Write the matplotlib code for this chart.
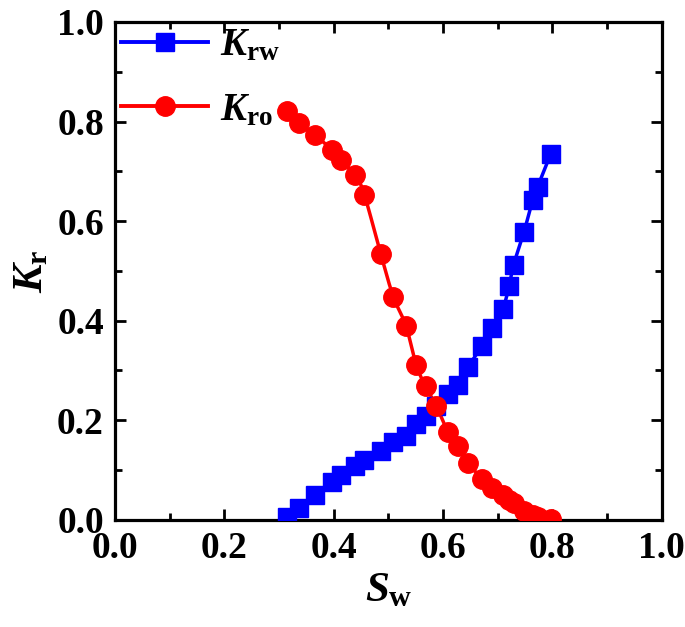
import numpy as np
import matplotlib.pyplot as plt
from matplotlib.ticker import MultipleLocator

# saturation values and relative permeability
sw = [0.315, 0.336, 0.365, 0.397, 0.413, 0.439, 0.456, 0.486, 0.509, 0.532,
      0.551, 0.568, 0.588, 0.609, 0.628, 0.646, 0.671, 0.689, 0.709, 0.721,
      0.729, 0.748, 0.764, 0.773, 0.797]
krw = [0.005, 0.023, 0.050, 0.075, 0.090, 0.109, 0.120, 0.139, 0.157, 0.169,
       0.192, 0.208, 0.228, 0.253, 0.271, 0.307, 0.349, 0.385, 0.423, 0.470,
       0.512, 0.578, 0.643, 0.669, 0.735]
kro = [0.822, 0.797, 0.773, 0.743, 0.722, 0.693, 0.653, 0.534, 0.448, 0.390,
       0.311, 0.268, 0.228, 0.177, 0.149, 0.115, 0.082, 0.064, 0.050, 0.040,
       0.033, 0.018, 0.010, 0.006, 0.002]

plt.rcParams['font.family'] = 'Liberation Serif'
plt.rcParams['font.weight'] = 'bold'
plt.rcParams['mathtext.fontset'] = 'custom'
plt.rcParams['mathtext.it'] = 'Liberation Serif:italic:bold'
plt.rcParams['mathtext.rm'] = 'Liberation Serif:bold'
plt.rcParams['mathtext.bf'] = 'Liberation Serif:bold'


def smooth(x, y, n=12):
    # Catmull-Rom style curve through the points
    x = np.asarray(x); y = np.asarray(y)
    px = np.concatenate([[2 * x[0] - x[1]], x, [2 * x[-1] - x[-2]]])
    py = np.concatenate([[2 * y[0] - y[1]], y, [2 * y[-1] - y[-2]]])
    xs, ys = [], []
    for i in range(1, len(px) - 2):
        t = np.linspace(0, 1, n, endpoint=False)
        for p, out in ((px, xs), (py, ys)):
            p0, p1, p2, p3 = p[i - 1], p[i], p[i + 1], p[i + 2]
            out.extend(0.5 * (2 * p1 + (-p0 + p2) * t + (2 * p0 - 5 * p1 + 4 * p2 - p3) * t ** 2
                              + (-p0 + 3 * p1 - 3 * p2 + p3) * t ** 3))
    xs.append(x[-1]); ys.append(y[-1])
    return xs, ys


fig = plt.figure(figsize=(6.85, 6.27), dpi=100)
ax = fig.add_axes([0.168, 0.171, 0.798, 0.794])

bx, by = smooth(sw, krw)
rx, ry = smooth(sw, kro)
ax.plot(bx, by, color='#0000ff', lw=2.5, zorder=2)
ax.plot(rx, ry, color='#ff0000', lw=2.5, zorder=2)
ax.plot(sw, krw, 's', color='#0000ff', ms=12.5, zorder=3)
ax.plot(sw, kro, 'o', color='#ff0000', ms=14, zorder=3)

# legend handles
ax.plot([], [], 's-', color='#0000ff', lw=2.8, ms=12.5, label=r'$\mathit{K}_{\mathrm{rw}}$')
ax.plot([], [], 'o-', color='#ff0000', lw=2.8, ms=14, label=r'$\mathit{K}_{\mathrm{ro}}$')
ax.legend(loc='upper left', frameon=False, fontsize=28, handlelength=2.25,
          borderaxespad=0.0, borderpad=0.15, labelspacing=0.7, handletextpad=0.3,
          bbox_to_anchor=(0.0, 1.0))

ax.set_xlim(0, 1)
ax.set_ylim(0, 1)
ax.xaxis.set_major_locator(MultipleLocator(0.2))
ax.xaxis.set_minor_locator(MultipleLocator(0.1))
ax.yaxis.set_major_locator(MultipleLocator(0.2))
ax.yaxis.set_minor_locator(MultipleLocator(0.1))
ax.xaxis.set_major_formatter(plt.FormatStrFormatter('%.1f'))
ax.yaxis.set_major_formatter(plt.FormatStrFormatter('%.1f'))
ax.tick_params(which='both', direction='in', top=True, right=True, width=2, labelsize=27, pad=8)
ax.tick_params(which='major', length=8)
ax.tick_params(which='minor', length=5)
for s in ax.spines.values():
    s.set_linewidth(2.3)

ax.set_xlabel(r'$\mathit{S}_{\mathrm{w}}$', fontsize=31, labelpad=4)
ax.set_ylabel(r'$\mathit{K}_{\mathrm{r}}$', fontsize=31, labelpad=4)

fig.savefig('out.png', dpi=100)
